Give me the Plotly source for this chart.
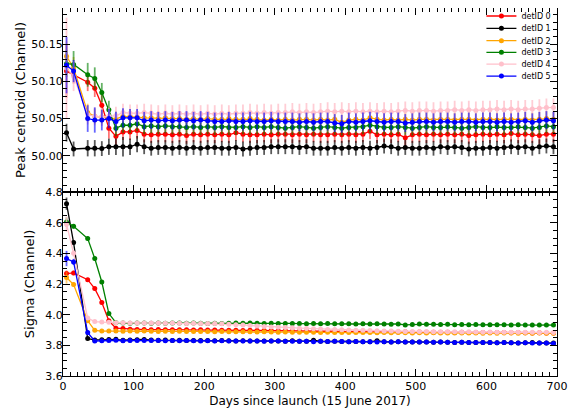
import plotly.graph_objects as go

days = [5, 15, 35, 45, 55, 65, 75, 85, 95, 105,
        115, 125, 135, 145, 155, 165, 175, 185, 195, 205,
        215, 225, 235, 245, 255, 265, 275, 285, 295, 305,
        315, 325, 335, 345, 355, 365, 375, 385, 395, 405,
        415, 425, 435, 445, 455, 465, 475, 485, 495, 505,
        515, 525, 535, 545, 555, 565, 575, 585, 595, 605,
        615, 625, 635, 645, 655, 665, 675, 685, 695]

labels = ["detID 0", "detID 1", "detID 2", "detID 3", "detID 4", "detID 5"]
colors = ["#ff0000", "#000000", "#ffa500", "#008000", "#ffc0cb", "#0000ff"]
err_colors = ["rgba(255,0,0,0.55)", "rgba(0,0,0,0.65)", "rgba(255,165,0,0.55)",
              "rgba(0,128,0,0.6)", "rgba(255,192,203,0.8)", "rgba(0,0,255,0.6)"]

# ---------------- Peak centroid (Channel) ----------------
cen_0 = [50.114, 50.109, 50.099, 50.091, 50.068, 50.037, 50.026, 50.032, 50.032, 50.034,
         50.029, 50.028, 50.029, 50.029, 50.028, 50.029, 50.027, 50.029, 50.028, 50.029,
         50.028, 50.029, 50.028, 50.031, 50.029, 50.028, 50.028, 50.029, 50.028, 50.029,
         50.029, 50.028, 50.029, 50.028, 50.029, 50.028, 50.028, 50.029, 50.028, 50.029,
         50.028, 50.029, 50.033, 50.028, 50.029, 50.028, 50.029, 50.024, 50.028, 50.029,
         50.028, 50.029, 50.028, 50.029, 50.028, 50.029, 50.027, 50.028, 50.029, 50.028,
         50.029, 50.028, 50.030, 50.028, 50.029, 50.028, 50.027, 50.029, 50.029]
cen_1 = [50.031, 50.009, 50.010, 50.010, 50.0095, 50.012, 50.012, 50.012, 50.012, 50.0155,
         50.012, 50.010, 50.011, 50.011, 50.010, 50.011, 50.010, 50.011, 50.010, 50.011,
         50.011, 50.010, 50.010, 50.011, 50.009, 50.010, 50.011, 50.011, 50.012, 50.012,
         50.012, 50.012, 50.011, 50.012, 50.010, 50.010, 50.010, 50.011, 50.010, 50.011,
         50.010, 50.011, 50.010, 50.011, 50.013, 50.012, 50.010, 50.011, 50.010, 50.010,
         50.011, 50.010, 50.012, 50.011, 50.012, 50.011, 50.009, 50.010, 50.010, 50.011,
         50.010, 50.011, 50.012, 50.011, 50.012, 50.010, 50.012, 50.013, 50.012]
cen_2 = [50.134, 50.118, 50.058, 50.053, 50.052, 50.051, 50.0495, 50.053, 50.053, 50.052,
         50.051, 50.051, 50.050, 50.051, 50.050, 50.050, 50.049, 50.050, 50.049, 50.050,
         50.049, 50.049, 50.050, 50.049, 50.049, 50.050, 50.049, 50.048, 50.049, 50.048,
         50.049, 50.048, 50.049, 50.049, 50.048, 50.049, 50.048, 50.049, 50.045, 50.048,
         50.049, 50.048, 50.051, 50.049, 50.048, 50.049, 50.048, 50.049, 50.048, 50.049,
         50.049, 50.048, 50.049, 50.049, 50.048, 50.049, 50.049, 50.048, 50.049, 50.049,
         50.048, 50.049, 50.049, 50.048, 50.049, 50.048, 50.049, 50.050, 50.049]
cen_3 = [50.124, 50.123, 50.109, 50.104, 50.085, 50.062, 50.037, 50.041, 50.041, 50.043,
         50.039, 50.040, 50.039, 50.040, 50.039, 50.039, 50.038, 50.039, 50.038, 50.039,
         50.038, 50.039, 50.038, 50.038, 50.039, 50.038, 50.039, 50.038, 50.039, 50.038,
         50.037, 50.038, 50.039, 50.038, 50.037, 50.038, 50.039, 50.038, 50.037, 50.038,
         50.038, 50.039, 50.041, 50.039, 50.038, 50.038, 50.039, 50.038, 50.037, 50.038,
         50.039, 50.038, 50.038, 50.039, 50.038, 50.037, 50.038, 50.039, 50.038, 50.038,
         50.039, 50.038, 50.038, 50.039, 50.038, 50.037, 50.038, 50.040, 50.039]
cen_4 = [50.118, 50.107, 50.055, 50.053, 50.052, 50.053, 50.054, 50.058, 50.057, 50.057,
         50.058, 50.057, 50.056, 50.057, 50.056, 50.057, 50.056, 50.057, 50.056, 50.057,
         50.056, 50.057, 50.056, 50.057, 50.057, 50.058, 50.057, 50.058, 50.057, 50.058,
         50.058, 50.059, 50.058, 50.059, 50.058, 50.059, 50.060, 50.059, 50.060, 50.059,
         50.060, 50.059, 50.060, 50.059, 50.060, 50.059, 50.060, 50.061, 50.060, 50.061,
         50.061, 50.060, 50.061, 50.061, 50.062, 50.061, 50.062, 50.061, 50.062, 50.062,
         50.063, 50.062, 50.063, 50.062, 50.063, 50.063, 50.064, 50.065, 50.065]
cen_5 = [50.122, 50.114, 50.050, 50.048, 50.048, 50.050, 50.046, 50.051, 50.051, 50.051,
         50.047, 50.048, 50.047, 50.048, 50.047, 50.048, 50.048, 50.047, 50.048, 50.047,
         50.046, 50.046, 50.047, 50.046, 50.046, 50.047, 50.046, 50.046, 50.047, 50.046,
         50.046, 50.046, 50.045, 50.046, 50.045, 50.046, 50.046, 50.044, 50.043, 50.046,
         50.045, 50.046, 50.047, 50.046, 50.045, 50.046, 50.046, 50.044, 50.045, 50.046,
         50.046, 50.045, 50.046, 50.046, 50.045, 50.046, 50.046, 50.045, 50.046, 50.046,
         50.045, 50.046, 50.045, 50.046, 50.047, 50.045, 50.047, 50.048, 50.047]

cen_err_0 = [0.036, 0.012, 0.012, 0.012, 0.017, 0.014, 0.012, 0.011, 0.011, 0.011,
             0.011, 0.011, 0.011, 0.011, 0.011, 0.011, 0.011, 0.011, 0.011, 0.011,
             0.011, 0.011, 0.011, 0.011, 0.011, 0.011, 0.011, 0.011, 0.011, 0.011,
             0.011, 0.011, 0.011, 0.011, 0.011, 0.011, 0.011, 0.011, 0.011, 0.011,
             0.011, 0.011, 0.011, 0.011, 0.011, 0.011, 0.011, 0.011, 0.011, 0.011,
             0.011, 0.011, 0.011, 0.011, 0.011, 0.011, 0.011, 0.011, 0.011, 0.011,
             0.011, 0.011, 0.011, 0.011, 0.011, 0.011, 0.011, 0.011, 0.011]
cen_err_1 = [0.012, 0.010, 0.011, 0.011, 0.010, 0.011, 0.011, 0.013, 0.011, 0.011,
             0.010, 0.010, 0.010, 0.010, 0.010, 0.010, 0.010, 0.010, 0.010, 0.010,
             0.010, 0.010, 0.010, 0.010, 0.010, 0.010, 0.010, 0.010, 0.010, 0.010,
             0.010, 0.010, 0.010, 0.010, 0.010, 0.010, 0.010, 0.010, 0.010, 0.010,
             0.010, 0.010, 0.010, 0.010, 0.010, 0.010, 0.010, 0.010, 0.010, 0.010,
             0.010, 0.010, 0.010, 0.010, 0.010, 0.010, 0.010, 0.010, 0.010, 0.010,
             0.010, 0.010, 0.010, 0.010, 0.010, 0.010, 0.010, 0.010, 0.010]
cen_err_2 = [0.020, 0.015, 0.012, 0.010, 0.010, 0.010, 0.010, 0.010, 0.010, 0.010,
             0.010, 0.010, 0.010, 0.010, 0.010, 0.010, 0.010, 0.010, 0.010, 0.010,
             0.010, 0.010, 0.010, 0.010, 0.010, 0.010, 0.010, 0.010, 0.010, 0.010,
             0.010, 0.010, 0.010, 0.010, 0.010, 0.010, 0.010, 0.010, 0.010, 0.010,
             0.010, 0.010, 0.010, 0.010, 0.010, 0.010, 0.010, 0.010, 0.010, 0.010,
             0.010, 0.010, 0.010, 0.010, 0.010, 0.010, 0.010, 0.010, 0.010, 0.010,
             0.010, 0.010, 0.010, 0.010, 0.010, 0.010, 0.010, 0.010, 0.010]
cen_err_3 = [0.018, 0.018, 0.016, 0.015, 0.013, 0.012, 0.011, 0.010, 0.010, 0.010,
             0.010, 0.010, 0.010, 0.010, 0.010, 0.010, 0.010, 0.010, 0.010, 0.010,
             0.010, 0.010, 0.010, 0.010, 0.010, 0.010, 0.010, 0.010, 0.010, 0.010,
             0.010, 0.010, 0.010, 0.010, 0.010, 0.010, 0.010, 0.010, 0.010, 0.010,
             0.010, 0.010, 0.010, 0.010, 0.010, 0.010, 0.010, 0.010, 0.010, 0.010,
             0.010, 0.010, 0.010, 0.010, 0.010, 0.010, 0.010, 0.010, 0.010, 0.010,
             0.010, 0.010, 0.010, 0.010, 0.010, 0.010, 0.010, 0.010, 0.010]
cen_err_4 = [0.068, 0.020, 0.013, 0.012, 0.012, 0.012, 0.012, 0.012, 0.012, 0.012,
             0.012, 0.012, 0.012, 0.012, 0.012, 0.012, 0.012, 0.012, 0.012, 0.012,
             0.012, 0.012, 0.012, 0.012, 0.012, 0.012, 0.012, 0.012, 0.012, 0.012,
             0.012, 0.012, 0.012, 0.012, 0.012, 0.012, 0.012, 0.012, 0.012, 0.012,
             0.012, 0.012, 0.012, 0.012, 0.012, 0.012, 0.012, 0.012, 0.012, 0.012,
             0.012, 0.012, 0.012, 0.012, 0.012, 0.012, 0.012, 0.012, 0.012, 0.012,
             0.012, 0.012, 0.012, 0.012, 0.012, 0.012, 0.012, 0.012, 0.012]
cen_err_5 = [0.038, 0.015, 0.018, 0.017, 0.014, 0.013, 0.013, 0.013, 0.012, 0.012,
             0.012, 0.012, 0.012, 0.012, 0.012, 0.012, 0.012, 0.012, 0.012, 0.012,
             0.012, 0.012, 0.012, 0.012, 0.012, 0.012, 0.012, 0.012, 0.012, 0.012,
             0.012, 0.012, 0.012, 0.012, 0.012, 0.012, 0.012, 0.012, 0.012, 0.012,
             0.012, 0.012, 0.012, 0.012, 0.012, 0.012, 0.012, 0.012, 0.012, 0.012,
             0.012, 0.012, 0.012, 0.012, 0.012, 0.012, 0.012, 0.012, 0.012, 0.012,
             0.012, 0.012, 0.012, 0.012, 0.012, 0.012, 0.012, 0.012, 0.012]

# ---------------- Sigma (Channel) ----------------
sig_0 = [4.268, 4.272, 4.228, 4.170, 4.080, 3.960, 3.912, 3.909, 3.905, 3.904,
         3.903, 3.902, 3.903, 3.902, 3.901, 3.902, 3.901, 3.900, 3.901, 3.900,
         3.900, 3.899, 3.898, 3.899, 3.897, 3.898, 3.897, 3.896, 3.897, 3.895,
         3.896, 3.894, 3.895, 3.893, 3.894, 3.892, 3.893, 3.891, 3.892, 3.890,
         3.891, 3.890, 3.889, 3.890, 3.888, 3.889, 3.887, 3.888, 3.886, 3.887,
         3.886, 3.885, 3.886, 3.885, 3.884, 3.885, 3.884, 3.883, 3.884, 3.883,
         3.883, 3.884, 3.882, 3.883, 3.882, 3.881, 3.882, 3.881, 3.881]
sig_1 = [4.724, 4.470, 3.844, 3.835, 3.836, 3.838, 3.839, 3.833, 3.834, 3.836,
         3.838, 3.834, 3.833, 3.834, 3.832, 3.833, 3.832, 3.831, 3.832, 3.831,
         3.830, 3.831, 3.830, 3.829, 3.830, 3.829, 3.828, 3.829, 3.828, 3.829,
         3.827, 3.830, 3.827, 3.826, 3.833, 3.826, 3.825, 3.826, 3.825, 3.824,
         3.825, 3.824, 3.823, 3.830, 3.823, 3.822, 3.823, 3.822, 3.821, 3.822,
         3.821, 3.820, 3.821, 3.820, 3.819, 3.820, 3.819, 3.818, 3.819, 3.818,
         3.817, 3.818, 3.817, 3.816, 3.817, 3.818, 3.816, 3.815, 3.815]
sig_2 = [4.242, 4.196, 3.960, 3.898, 3.893, 3.894, 3.893, 3.892, 3.893, 3.892,
         3.893, 3.892, 3.891, 3.892, 3.891, 3.892, 3.891, 3.890, 3.891, 3.890,
         3.889, 3.890, 3.889, 3.888, 3.889, 3.888, 3.887, 3.888, 3.887, 3.886,
         3.887, 3.886, 3.885, 3.886, 3.885, 3.884, 3.885, 3.884, 3.883, 3.884,
         3.883, 3.884, 3.883, 3.882, 3.883, 3.882, 3.883, 3.882, 3.881, 3.882,
         3.881, 3.882, 3.881, 3.880, 3.881, 3.880, 3.881, 3.880, 3.879, 3.880,
         3.879, 3.880, 3.881, 3.879, 3.880, 3.879, 3.880, 3.879, 3.879]
sig_3 = [4.604, 4.576, 4.496, 4.366, 4.213, 4.007, 3.948, 3.945, 3.944, 3.945,
         3.946, 3.944, 3.945, 3.944, 3.945, 3.946, 3.944, 3.945, 3.944, 3.943,
         3.944, 3.943, 3.944, 3.945, 3.944, 3.945, 3.944, 3.943, 3.944, 3.943,
         3.942, 3.943, 3.942, 3.941, 3.942, 3.941, 3.942, 3.940, 3.941, 3.940,
         3.939, 3.940, 3.939, 3.941, 3.939, 3.938, 3.939, 3.933, 3.936, 3.939,
         3.938, 3.937, 3.936, 3.937, 3.935, 3.936, 3.935, 3.936, 3.934, 3.935,
         3.934, 3.935, 3.933, 3.934, 3.932, 3.933, 3.932, 3.933, 3.932]
sig_4 = [4.590, 4.400, 3.978, 3.955, 3.952, 3.950, 3.948, 3.947, 3.946, 3.946,
         3.945, 3.946, 3.945, 3.944, 3.945, 3.944, 3.943, 3.944, 3.943, 3.942,
         3.942, 3.940, 3.938, 3.935, 3.932, 3.929, 3.926, 3.923, 3.920, 3.918,
         3.916, 3.914, 3.912, 3.910, 3.908, 3.906, 3.904, 3.903, 3.901, 3.900,
         3.899, 3.898, 3.896, 3.895, 3.894, 3.893, 3.892, 3.891, 3.891, 3.890,
         3.890, 3.889, 3.889, 3.888, 3.888, 3.887, 3.888, 3.887, 3.886, 3.887,
         3.886, 3.886, 3.885, 3.886, 3.885, 3.885, 3.884, 3.885, 3.884]
sig_5 = [4.366, 4.344, 3.883, 3.828, 3.830, 3.832, 3.833, 3.830, 3.832, 3.832,
         3.831, 3.832, 3.831, 3.830, 3.831, 3.830, 3.831, 3.830, 3.829, 3.830,
         3.829, 3.830, 3.829, 3.828, 3.829, 3.828, 3.829, 3.827, 3.828, 3.829,
         3.826, 3.827, 3.826, 3.827, 3.824, 3.826, 3.825, 3.826, 3.825, 3.824,
         3.825, 3.824, 3.823, 3.822, 3.823, 3.822, 3.823, 3.822, 3.821, 3.822,
         3.821, 3.820, 3.821, 3.820, 3.819, 3.820, 3.819, 3.818, 3.819, 3.818,
         3.817, 3.818, 3.817, 3.816, 3.817, 3.816, 3.815, 3.816, 3.812]

sig_err_0 = [0.020, 0.015, 0.012, 0.012, 0.012, 0.010, 0.008, 0.007, 0.006, 0.006,
             0.006, 0.006, 0.006, 0.006, 0.006, 0.006, 0.006, 0.006, 0.006, 0.006,
             0.006, 0.006, 0.006, 0.006, 0.006, 0.006, 0.006, 0.006, 0.006, 0.006,
             0.006, 0.006, 0.006, 0.006, 0.006, 0.006, 0.006, 0.006, 0.006, 0.006,
             0.006, 0.006, 0.006, 0.006, 0.006, 0.006, 0.006, 0.006, 0.006, 0.006,
             0.006, 0.006, 0.006, 0.006, 0.006, 0.006, 0.006, 0.006, 0.006, 0.006,
             0.006, 0.006, 0.006, 0.006, 0.006, 0.006, 0.006, 0.006, 0.006]
sig_err_1 = [0.040, 0.015, 0.010, 0.008, 0.007, 0.007, 0.006, 0.006, 0.006, 0.006,
             0.006, 0.006, 0.006, 0.006, 0.006, 0.006, 0.006, 0.006, 0.006, 0.006,
             0.006, 0.006, 0.006, 0.006, 0.006, 0.006, 0.006, 0.006, 0.006, 0.006,
             0.006, 0.006, 0.006, 0.006, 0.006, 0.006, 0.006, 0.006, 0.006, 0.006,
             0.006, 0.006, 0.006, 0.006, 0.006, 0.006, 0.006, 0.006, 0.006, 0.006,
             0.006, 0.006, 0.006, 0.006, 0.006, 0.006, 0.006, 0.006, 0.006, 0.006,
             0.006, 0.006, 0.006, 0.006, 0.006, 0.006, 0.006, 0.006, 0.006]
sig_err_2 = [0.040, 0.015, 0.010, 0.008, 0.007, 0.007, 0.006, 0.006, 0.006, 0.006,
             0.006, 0.006, 0.006, 0.006, 0.006, 0.006, 0.006, 0.006, 0.006, 0.006,
             0.006, 0.006, 0.006, 0.006, 0.006, 0.006, 0.006, 0.006, 0.006, 0.006,
             0.006, 0.006, 0.006, 0.006, 0.006, 0.006, 0.006, 0.006, 0.006, 0.006,
             0.006, 0.006, 0.006, 0.006, 0.006, 0.006, 0.006, 0.006, 0.006, 0.006,
             0.006, 0.006, 0.006, 0.006, 0.006, 0.006, 0.006, 0.006, 0.006, 0.006,
             0.006, 0.006, 0.006, 0.006, 0.006, 0.006, 0.006, 0.006, 0.006]
sig_err_3 = [0.030, 0.015, 0.012, 0.012, 0.010, 0.008, 0.007, 0.006, 0.006, 0.006,
             0.006, 0.006, 0.006, 0.006, 0.006, 0.006, 0.006, 0.006, 0.006, 0.006,
             0.006, 0.006, 0.006, 0.006, 0.006, 0.006, 0.006, 0.006, 0.006, 0.006,
             0.006, 0.006, 0.006, 0.006, 0.006, 0.006, 0.006, 0.006, 0.006, 0.006,
             0.006, 0.006, 0.006, 0.006, 0.006, 0.006, 0.006, 0.006, 0.006, 0.006,
             0.006, 0.006, 0.006, 0.006, 0.006, 0.006, 0.006, 0.006, 0.006, 0.006,
             0.006, 0.006, 0.006, 0.006, 0.006, 0.006, 0.006, 0.006, 0.006]
sig_err_4 = [0.050, 0.020, 0.010, 0.008, 0.007, 0.007, 0.006, 0.006, 0.006, 0.006,
             0.006, 0.006, 0.006, 0.006, 0.006, 0.006, 0.006, 0.006, 0.006, 0.006,
             0.006, 0.006, 0.006, 0.006, 0.006, 0.006, 0.006, 0.006, 0.006, 0.006,
             0.006, 0.006, 0.006, 0.006, 0.006, 0.006, 0.006, 0.006, 0.006, 0.006,
             0.006, 0.006, 0.006, 0.006, 0.006, 0.006, 0.006, 0.006, 0.006, 0.006,
             0.006, 0.006, 0.006, 0.006, 0.006, 0.006, 0.006, 0.006, 0.006, 0.006,
             0.006, 0.006, 0.006, 0.006, 0.006, 0.006, 0.006, 0.006, 0.006]
sig_err_5 = [0.050, 0.020, 0.015, 0.008, 0.007, 0.007, 0.006, 0.010, 0.006, 0.006,
             0.006, 0.006, 0.006, 0.006, 0.006, 0.006, 0.006, 0.006, 0.006, 0.006,
             0.006, 0.006, 0.006, 0.006, 0.006, 0.006, 0.006, 0.006, 0.006, 0.006,
             0.006, 0.006, 0.006, 0.006, 0.006, 0.006, 0.006, 0.006, 0.006, 0.006,
             0.006, 0.006, 0.006, 0.006, 0.006, 0.006, 0.006, 0.006, 0.006, 0.006,
             0.006, 0.006, 0.006, 0.006, 0.006, 0.006, 0.006, 0.006, 0.006, 0.006,
             0.006, 0.006, 0.006, 0.006, 0.006, 0.006, 0.006, 0.006, 0.006]

centroids = [cen_0, cen_1, cen_2, cen_3, cen_4, cen_5]
centroid_errs = [cen_err_0, cen_err_1, cen_err_2, cen_err_3, cen_err_4, cen_err_5]
sigmas = [sig_0, sig_1, sig_2, sig_3, sig_4, sig_5]
sigma_errs = [sig_err_0, sig_err_1, sig_err_2, sig_err_3, sig_err_4, sig_err_5]

FONT = "DejaVu Sans"
legend_ids = ["legend", "legend2", "legend3", "legend4", "legend5", "legend6"]
legend_y = [0.9782, 0.9448, 0.9111, 0.8795, 0.8477, 0.8151]

fig = go.Figure()
for i in range(6):
    fig.add_trace(go.Scatter(
        x=days, y=centroids[i], name=labels[i], mode="lines+markers",
        line=dict(color=colors[i], width=1.3),
        marker=dict(color=colors[i], size=5),
        error_y=dict(type="data", array=centroid_errs[i], color=err_colors[i],
                     thickness=1.8, width=0),
        xaxis="x", yaxis="y", legend=legend_ids[i], showlegend=True))
for i in range(6):
    fig.add_trace(go.Scatter(
        x=days, y=sigmas[i], name=labels[i], mode="lines+markers",
        line=dict(color=colors[i], width=1.3),
        marker=dict(color=colors[i], size=5),
        error_y=dict(type="data", array=sigma_errs[i], color=err_colors[i],
                     thickness=1.8, width=0),
        xaxis="x2", yaxis="y2", showlegend=False))

axis_common = dict(
    showline=True, linecolor="black", linewidth=1.3, mirror="allticks",
    ticks="inside", ticklen=7, tickwidth=1.2, tickcolor="black",
    showgrid=False, zeroline=False, automargin=False,
    tickfont=dict(family=FONT, size=11, color="black"),
)

# the page body adds an 8px offset; the figure is sized to fit the window
layout = dict(
    width=573, height=402,
    margin=dict(l=55, r=23.5, t=0, b=34.3, autoexpand=False),
    paper_bgcolor="white", plot_bgcolor="white",
    font=dict(family=FONT, color="black"),
    xaxis=dict(axis_common, domain=[0, 1], anchor="y", range=[0, 700],
               dtick=100, tick0=0, showticklabels=False, matches="x2",
               minor=dict(ticks="inside", ticklen=3.5, dtick=10, tick0=0,
                          tickwidth=1, tickcolor="black")),
    yaxis=dict(axis_common, domain=[0.5, 1], anchor="x", range=[49.951, 50.199],
               tick0=50.0, dtick=0.05, tickformat=".2f", ticklabelstandoff=-3,
               title=dict(text="Peak centroid (Channel)", standoff=2,
                          font=dict(family=FONT, size=13, color="black")),
               minor=dict(ticks="inside", ticklen=3.5, dtick=0.01, tick0=50.0,
                          tickwidth=1, tickcolor="black")),
    xaxis2=dict(axis_common, domain=[0, 1], anchor="y2", range=[0, 700],
                dtick=100, tick0=0,
                title=dict(text="Days since launch (15 June 2017)", standoff=4,
                           font=dict(family=FONT, size=12, color="black")),
                minor=dict(ticks="inside", ticklen=3.5, dtick=10, tick0=0,
                           tickwidth=1, tickcolor="black")),
    yaxis2=dict(axis_common, domain=[0, 0.5], anchor="x2", range=[3.6, 4.8],
                tick0=3.6, dtick=0.2, tickformat=".1f", ticklabelstandoff=-3,
                title=dict(text="Sigma (Channel)", standoff=7,
                           font=dict(family=FONT, size=13, color="black")),
                minor=dict(ticks="inside", ticklen=3.5, dtick=0.05, tick0=3.6,
                           tickwidth=1, tickcolor="black")),
    showlegend=True,
)
for lid, ly in zip(legend_ids, legend_y):
    layout[lid] = dict(x=0.847, y=ly, xanchor="left", yanchor="middle",
                       bgcolor="rgba(0,0,0,0)", borderwidth=0,
                       font=dict(family=FONT, size=8, color="black"),
                       itemwidth=30, tracegroupgap=0)

fig.update_layout(**layout)
fig.write_html("out.html")
